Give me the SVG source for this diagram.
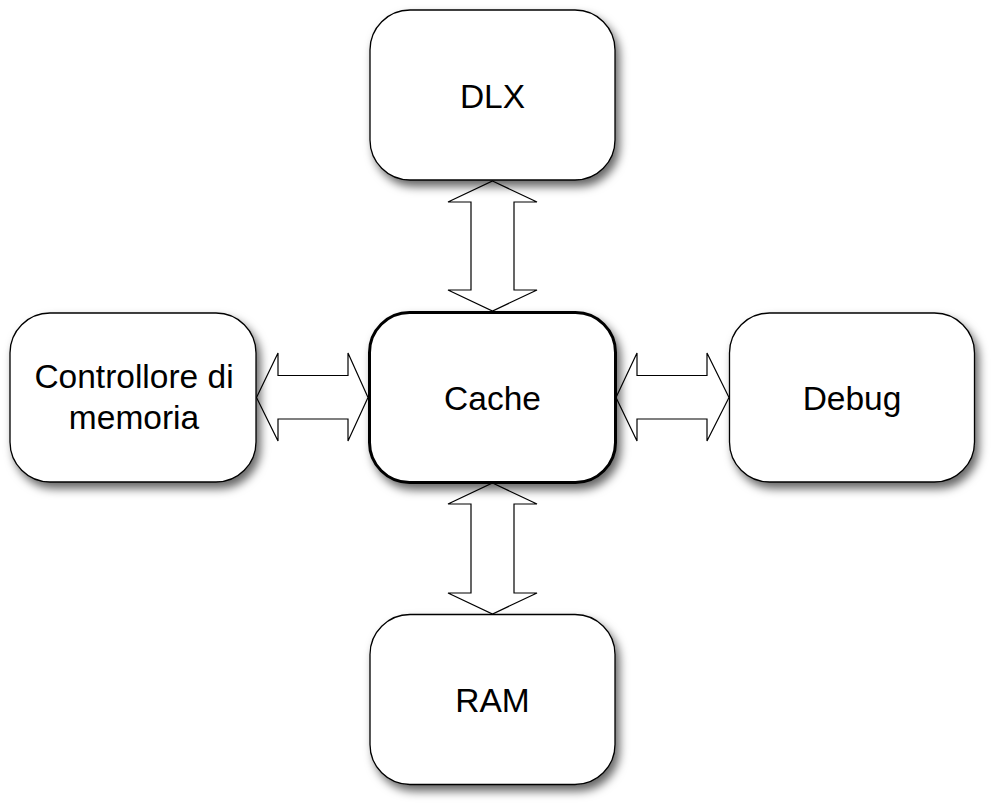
<svg xmlns="http://www.w3.org/2000/svg" width="999" height="808" viewBox="0 0 999 808">
<defs>
<filter id="sh" x="-20%" y="-20%" width="150%" height="150%">
<feDropShadow dx="4" dy="6" stdDeviation="5" flood-color="#000" flood-opacity="0.6"/>
</filter>
</defs>
<style>
.box{fill:#fff;stroke:#000;stroke-width:1.3;filter:url(#sh)}
.main{stroke-width:3}
.lbl{font-family:"Liberation Sans",Arial,sans-serif;font-size:33.5px;fill:#000;text-anchor:middle}
.arr{fill:#fff;stroke:#000;stroke-width:1.2;stroke-linejoin:miter}
</style>
<rect width="999" height="808" fill="#fff"/>
<g id="connectors">
<polygon class="arr" points="492.5,181 537,202 514,202 514,290 537,290 492.5,311 448,290 471,290 471,202 448,202"/>
<polygon class="arr" points="492.5,483 537,504 514,504 514,593 537,593 492.5,614 448,593 471,593 471,504 448,504"/>
<polygon class="arr" points="256.5,397.5 278,353 278,375.5 348,375.5 348,353 368,397.5 348,441 348,419 278,419 278,441"/>
<polygon class="arr" points="616,397.5 637,353 637,375.5 707,375.5 707,353 729,397.5 707,441 707,419 637,419 637,441"/>
</g>
<g id="dlx">
<rect class="box" x="370" y="10" width="245" height="170" rx="40" ry="40"/>
<text class="lbl" x="492.5" y="108">DLX</text>
</g>
<g id="cache">
<rect class="box main" x="369.5" y="312.5" width="246" height="170" rx="40" ry="40"/>
<text class="lbl" x="492.5" y="410">Cache</text>
</g>
<g id="controllore">
<rect class="box" x="10" y="313" width="246" height="169" rx="40" ry="40"/>
<text class="lbl" x="134" y="388">Controllore di</text>
<text class="lbl" x="134" y="429">memoria</text>
</g>
<g id="debug">
<rect class="box" x="729.5" y="313" width="245" height="169" rx="40" ry="40"/>
<text class="lbl" x="852" y="410">Debug</text>
</g>
<g id="ram">
<rect class="box" x="370" y="614.5" width="245" height="170" rx="40" ry="40"/>
<text class="lbl" x="492.5" y="712">RAM</text>
</g>
</svg>
